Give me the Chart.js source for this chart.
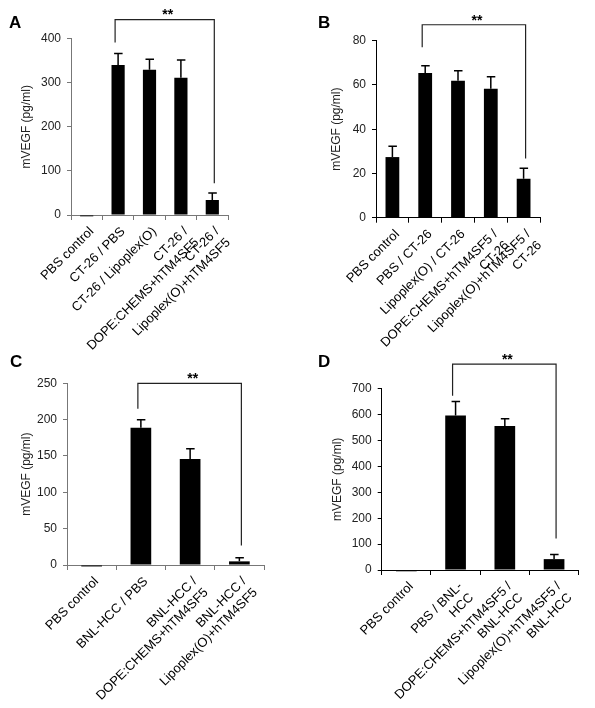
<!DOCTYPE html>
<html>
<head>
<meta charset="utf-8">
<script src="https://cdn.jsdelivr.net/npm/chart.js@4.4.0/dist/chart.umd.min.js"></script>
<style>
  html, body { margin: 0; padding: 0; background: #fff; }
  #wrap { position: relative; width: 595px; height: 708px; }
  canvas { position: absolute; left: 0; top: 0; }
</style>
</head>
<body>
<div id="wrap">
  <canvas id="chartA" width="595" height="708"></canvas>
  <canvas id="chartB" width="595" height="708"></canvas>
  <canvas id="chartC" width="595" height="708"></canvas>
  <canvas id="chartD" width="595" height="708"></canvas>
</div>
<script>
// ---- data ----
const labelsA = ['PBS control', 'CT-26 / PBS', 'CT-26 / Lipoplex(O)', ['CT-26 /', 'DOPE:CHEMS+hTM4SF5'], ['CT-26 /', 'Lipoplex(O)+hTM4SF5']];
const valuesA = [-3, 340, 329, 311, 34];
const errorsA = [0, 26, 24, 40, 16];
const bracketA = [1, 4, 443, 391, 72]; // from idx, to idx, top, left leg end, right leg end

const labelsB = ['PBS control', 'PBS / CT-26', 'Lipoplex(O) / CT-26', ['DOPE:CHEMS+hTM4SF5 /', 'CT-26'], ['Lipoplex(O)+hTM4SF5 /', 'CT-26']];
const valuesB = [27.4, 65.4, 61.9, 58.3, 17.6];
const errorsB = [4.9, 3.3, 4.5, 5.4, 4.7];
const bracketB = [1, 4, 87.2, 77, 26.8];

const labelsC = ['PBS control', 'BNL-HCC / PBS', ['BNL-HCC /', 'DOPE:CHEMS+hTM4SF5'], ['BNL-HCC /', 'Lipoplex(O)+hTM4SF5']];
const valuesC = [-2, 189, 146, 5];
const errorsC = [0, 11, 14, 5];
const bracketC = [1, 3, 250, 215, 27];

const labelsD = ['PBS control', ['PBS / BNL-', 'HCC'], ['DOPE:CHEMS+hTM4SF5 /', 'BNL-HCC'], ['Lipoplex(O)+hTM4SF5 /', 'BNL-HCC']];
const valuesD = [-5, 597, 556, 42];
const errorsD = [0, 54, 28, 18];
const bracketD = [1, 3, 795, 673, 122];

const yTitle = 'mVEGF (pg/ml)';
const sig = '**';

// extra drawing: error bars, significance bracket, panel letter
const extrasPlugin = {
  id: 'extras',
  afterDatasetsDraw(chart) {
    const o = chart.options.plugins.extras;
    const ctx = chart.ctx;
    const x = chart.scales.x, y = chart.scales.y;
    const meta = chart.getDatasetMeta(0);
    ctx.save();
    ctx.strokeStyle = '#000';
    ctx.lineWidth = 1.5;
    // error bars
    meta.data.forEach((bar, i) => {
      const e = o.errors[i];
      if (!e) return;
      const top = y.getPixelForValue(o.values[i] + e);
      ctx.beginPath();
      ctx.moveTo(bar.x, bar.y);
      ctx.lineTo(bar.x, top);
      ctx.moveTo(bar.x - 4, top);
      ctx.lineTo(bar.x + 4.5, top);
      ctx.stroke();
    });
    // bracket
    const b = o.bracket;
    const x1 = x.getPixelForValue(b[0]) - 3;
    const x2 = x.getPixelForValue(b[1]) + 2;
    const yt = y.getPixelForValue(b[2]);
    ctx.lineWidth = 1.2;
    ctx.strokeStyle = '#222';
    ctx.beginPath();
    ctx.moveTo(x1, y.getPixelForValue(b[3]));
    ctx.lineTo(x1, yt);
    ctx.lineTo(x2, yt);
    ctx.lineTo(x2, y.getPixelForValue(b[4]));
    ctx.stroke();
    ctx.fillStyle = '#000';
    ctx.font = 'bold 14px "Liberation Sans", Arial, sans-serif';
    ctx.textAlign = 'center';
    ctx.textBaseline = 'bottom';
    ctx.fillText(sig, (x1 + x2) / 2 + 3, yt + 3);
    // panel letter
    ctx.font = 'bold 17px "Liberation Sans", Arial, sans-serif';
    ctx.textAlign = 'left';
    ctx.textBaseline = 'middle';
    ctx.fillText(o.letter, o.letterX, o.letterY);
    ctx.restore();
  }
};

function makePanel(id, p) {
  const scaleLeft = p.titleX - 7.2;
  const xh = Math.min(140, 708 - p.bottom);
  const ctx = document.getElementById(id).getContext('2d');
  return new Chart(ctx, {
    type: 'bar',
    data: {
      labels: p.labels,
      datasets: [{
        data: p.values,
        backgroundColor: '#000',
        borderWidth: 0,
        barPercentage: 0.42,
        categoryPercentage: 1,
        clip: false
      }]
    },
    options: {
      responsive: false,
      animation: false,
      events: [],
      devicePixelRatio: 1,
      layout: {
        padding: {
          left: scaleLeft,
          right: 595 - p.right,
          top: p.top,
          bottom: 708 - p.bottom - xh
        }
      },
      scales: {
        x: {
          afterFit: s => { s.height = xh; },
          grid: { display: true, drawOnChartArea: false, tickLength: 5, color: p.axis, offset: true },
          border: { display: true, color: p.axis, width: 1 },
          ticks: {
            autoSkip: false, minRotation: 45, maxRotation: 45, padding: 4, labelOffset: 5,
            color: '#000',
            font: { family: '"Liberation Sans", Arial, sans-serif', size: 13 }
          }
        },
        y: {
          min: 0,
          max: p.max,
          afterFit: s => { s.width = p.left - scaleLeft; },
          grid: { display: true, drawOnChartArea: false, tickLength: 4, color: p.axis },
          border: { display: true, color: p.axis, width: 1 },
          ticks: {
            stepSize: p.step, padding: 6, color: '#222',
            font: { family: '"Liberation Sans", Arial, sans-serif', size: 12 }
          },
          title: {
            display: true, text: yTitle, color: '#222', padding: 0,
            font: { family: '"Liberation Sans", Arial, sans-serif', size: 12 }
          }
        }
      },
      plugins: {
        legend: { display: false },
        tooltip: { enabled: false },
        extras: {
          values: p.values, errors: p.errors, bracket: p.bracket,
          letter: p.letter, letterX: p.letterX, letterY: p.letterY
        }
      }
    },
    plugins: [extrasPlugin]
  });
}

makePanel('chartA', {
  labels: labelsA, values: valuesA, errors: errorsA, bracket: bracketA,
  max: 400, step: 100, letter: 'A', letterX: 9, letterY: 23,
  left: 71, right: 228, top: 38.5, bottom: 215, titleX: 27, axis: '#777'
});
makePanel('chartB', {
  labels: labelsB, values: valuesB, errors: errorsB, bracket: bracketB,
  max: 80, step: 20, letter: 'B', letterX: 318, letterY: 23,
  left: 376, right: 540, top: 40.7, bottom: 217.7, titleX: 337, axis: '#000'
});
makePanel('chartC', {
  labels: labelsC, values: valuesC, errors: errorsC, bracket: bracketC,
  max: 250, step: 50, letter: 'C', letterX: 10, letterY: 362,
  left: 67, right: 264, top: 383.3, bottom: 565, titleX: 27, axis: '#777'
});
makePanel('chartD', {
  labels: labelsD, values: valuesD, errors: errorsD, bracket: bracketD,
  max: 700, step: 100, letter: 'D', letterX: 318, letterY: 362,
  left: 381.7, right: 578.7, top: 388.7, bottom: 570, titleX: 338, axis: '#000'
});
</script>
</body>
</html>
